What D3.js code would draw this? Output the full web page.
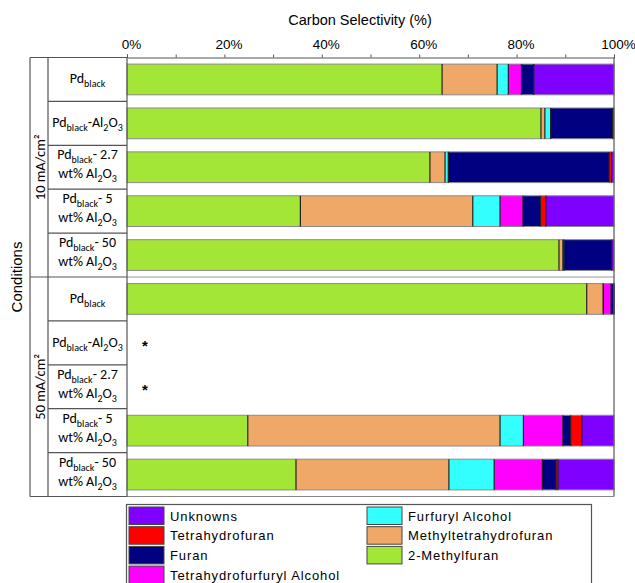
<!DOCTYPE html>
<html>
<head>
<meta charset="utf-8">
<script src="https://cdn.jsdelivr.net/npm/d3@7"></script>
<style>
  html, body { margin: 0; padding: 0; background: #fff; }
  svg { display: block; }
</style>
</head>
<body>
<svg id="chart" width="635" height="583"></svg>
<script>
// Current density groups and catalyst rows ({..} = subscript, | = line break)
const groups = ["10 mA/cm²", "50 mA/cm²"];
const rowGroup = [0, 0, 0, 0, 0, 1, 1, 1, 1, 1];
const catalysts = [
  "Pd{black}",
  "Pd{black}-Al{2}O{3}",
  "Pd{black}- 2.7|wt% Al{2}O{3}",
  "Pd{black}- 5|wt% Al{2}O{3}",
  "Pd{black}- 50|wt% Al{2}O{3}",
  "Pd{black}",
  "Pd{black}-Al{2}O{3}",
  "Pd{black}- 2.7|wt% Al{2}O{3}",
  "Pd{black}- 5|wt% Al{2}O{3}",
  "Pd{black}- 50|wt% Al{2}O{3}"
];

// Carbon selectivity (%) per product; null = not measured (*)
const methylfuran   = [64.7, 85.0, 62.2, 35.6, 88.7, 94.4, null, null, 24.8, 34.7];
const methylTHF     = [11.3,  0.8,  3.1, 35.4,  0.8,  3.4, null, null, 51.8, 31.4];
const furfurylAlc   = [ 2.3,  1.2,  0.7,  5.6,  0.2,  0.0, null, null,  4.8,  9.3];
const thfAlcohol    = [ 2.7,  0.0,  0.0,  4.7,  0.0,  1.6, null, null,  8.1,  9.9];
const furan         = [ 2.5, 12.7, 33.0,  3.6,  9.8,  0.6, null, null,  1.6,  2.8];
const thf           = [ 0.0,  0.0,  0.5,  1.1,  0.0,  0.0, null, null,  2.3,  0.4];
const unknowns      = [16.5,  0.3,  0.5, 14.0,  0.5,  0.0, null, null,  6.6, 11.5];

const seriesNames = ["2-Methylfuran", "Methyltetrahydrofuran", "Furfuryl Alcohol",
  "Tetrahydrofurfuryl Alcohol", "Furan", "Tetrahydrofuran", "Unknowns"];
const seriesValues = [methylfuran, methylTHF, furfurylAlc, thfAlcohol, furan, thf, unknowns];
const seriesColors = ["#a3e635", "#f0a868", "#33ffff", "#ff00ff", "#000080", "#ff0000", "#8000ff"];

const xTicks = [0, 20, 40, 60, 80, 100];
const minorTicks = [0, 10, 20, 30, 40, 50, 60, 70, 80, 90, 100];

// Legend layout: two columns
const legendCols = [
  ["Unknowns", "Tetrahydrofuran", "Furan", "Tetrahydrofurfuryl Alcohol"],
  ["Furfuryl Alcohol", "Methyltetrahydrofuran", "2-Methylfuran"]
];

const svg = d3.select("#chart");
const plot = { left: 127, right: 614, top: 57.5, bottom: 496.5 };
const tableLeft = 30, tableMid = 48;

const x = d3.scaleLinear().domain([0, 100]).range([plot.left, plot.right]);
const rowIds = d3.range(catalysts.length);
const y = d3.scaleBand().domain(rowIds).range([plot.top, plot.bottom])
  .paddingInner(0.3).paddingOuter(0.15);
const step = y.step();
const color = d3.scaleOrdinal().domain(seriesNames).range(seriesColors);

// Table of rows
const rows = rowIds.map(i => {
  const r = { id: i };
  seriesNames.forEach((n, k) => r[n] = seriesValues[k][i]);
  return r;
});
const measured = rows.filter(r => r[seriesNames[0]] !== null);
const stacked = d3.stack().keys(seriesNames).value((d, k) => d[k] || 0)(measured);

const lineColor = "#555";

// Group separator running across the plot
const groupBoundary = plot.top + step * rowGroup.filter(g => g === 0).length;
svg.append("line")
  .attr("x1", plot.left).attr("x2", plot.right)
  .attr("y1", groupBoundary).attr("y2", groupBoundary)
  .attr("stroke", "#999").attr("stroke-width", 1);

// Stacked bars
const layers = svg.append("g").selectAll("g").data(stacked).join("g")
  .attr("fill", d => color(d.key));
layers.selectAll("rect").data(d => d).join("rect")
  .attr("x", d => x(d[0]))
  .attr("width", d => Math.max(0, x(d[1]) - x(d[0])))
  .attr("y", d => y(d.data.id))
  .attr("height", y.bandwidth());

// Bar outlines
svg.append("g").selectAll("rect").data(measured).join("rect")
  .attr("x", x(0)).attr("width", x(100) - x(0))
  .attr("y", d => y(d.id)).attr("height", y.bandwidth())
  .attr("fill", "none").attr("stroke", "#8a8a8a").attr("stroke-width", 1);

// Segment boundaries
const bounds = [];
stacked.forEach((layer, k) => {
  if (k === stacked.length - 1) return;
  layer.forEach(d => bounds.push({ id: d.data.id, v: d[1] }));
});
svg.append("g").selectAll("line").data(bounds).join("line")
  .attr("x1", d => x(d.v)).attr("x2", d => x(d.v))
  .attr("y1", d => y(d.id)).attr("y2", d => y(d.id) + y.bandwidth())
  .attr("stroke", "#222").attr("stroke-width", 1.2);

// Not measured markers
svg.append("g").selectAll("text").data(rows.filter(r => r[seriesNames[0]] === null)).join("text")
  .attr("x", x(0) + 18).attr("y", d => y(d.id) + y.bandwidth() / 2 + 8)
  .attr("text-anchor", "middle")
  .attr("font-family", "Liberation Sans, Arial, sans-serif")
  .attr("font-size", 15).attr("font-weight", "bold")
  .text("*");

// Plot frame: right and bottom edges
svg.append("line").attr("x1", plot.right).attr("x2", plot.right)
  .attr("y1", plot.top).attr("y2", plot.bottom)
  .attr("stroke", lineColor).attr("stroke-width", 1.2);
svg.append("line").attr("x1", plot.left).attr("x2", plot.right)
  .attr("y1", plot.bottom).attr("y2", plot.bottom)
  .attr("stroke", "#888").attr("stroke-width", 1.2);

// Top axis
const axis = svg.append("g").attr("transform", `translate(0,${plot.top})`)
  .call(d3.axisTop(x).tickValues(minorTicks).tickSize(3).tickFormat(""));
axis.select(".domain").attr("stroke", lineColor);
axis.selectAll(".tick line").attr("stroke", lineColor);
svg.append("g").selectAll("text").data(xTicks).join("text")
  .attr("x", d => x(d) + 4.5).attr("y", 49)
  .attr("text-anchor", "middle")
  .attr("font-family", "Liberation Sans, Arial, sans-serif")
  .attr("font-size", 13.5).attr("fill", "#000")
  .text(d => d + "%");
svg.append("text")
  .attr("x", 360).attr("y", 25).attr("text-anchor", "middle")
  .attr("font-family", "Liberation Sans, Arial, sans-serif")
  .attr("font-size", 14.5).text("Carbon Selectivity (%)");

// Left condition table
const table = svg.append("g").attr("stroke", lineColor).attr("stroke-width", 1.2);
[tableLeft, tableMid, plot.left].forEach(xx => table.append("line")
  .attr("x1", xx).attr("x2", xx).attr("y1", plot.top).attr("y2", plot.bottom));
table.append("line").attr("x1", tableLeft).attr("x2", plot.left)
  .attr("y1", plot.top).attr("y2", plot.top);
table.append("line").attr("x1", tableLeft).attr("x2", plot.left)
  .attr("y1", plot.bottom).attr("y2", plot.bottom);
rowIds.slice(1).forEach(i => {
  const yy = plot.top + step * i;
  const isGroup = rowGroup[i] !== rowGroup[i - 1];
  table.append("line").attr("x1", isGroup ? tableLeft : tableMid).attr("x2", plot.left)
    .attr("y1", yy).attr("y2", yy);
});

// Catalyst labels with subscripts
const labelFont = "Carlito, Lato, 'Open Sans', sans-serif";
function addRich(textSel, str) {
  const parts = str.split(/(\{[^}]*\})/).filter(s => s.length);
  let shift = 0;
  parts.forEach(p => {
    const isSub = p.startsWith("{");
    const target = isSub ? 4 : 0;
    textSel.append("tspan")
      .attr("font-size", isSub ? 10 : 14)
      .attr("dy", target - shift)
      .text(isSub ? p.slice(1, -1) : p);
    shift = target;
  });
}
const labelG = svg.append("g").attr("font-family", labelFont).attr("fill", "#000");
catalysts.forEach((lab, i) => {
  const lines = lab.split("|");
  const cy = y(i) + y.bandwidth() / 2;
  lines.forEach((ln, j) => {
    const off = lines.length === 1 ? 4 : (j === 0 ? -8 : 11);
    const t = labelG.append("text").attr("x", (tableMid + plot.left) / 2)
      .attr("y", cy + off).attr("text-anchor", "middle");
    addRich(t, ln);
  });
});

// Group labels (rotated)
groups.forEach((g, gi) => {
  const ids = rowIds.filter(i => rowGroup[i] === gi);
  const yc = (plot.top + step * ids[0] + plot.top + step * (ids[ids.length - 1] + 1)) / 2;
  svg.append("text")
    .attr("transform", `translate(${(tableLeft + tableMid) / 2 + 6},${yc}) rotate(-90)`)
    .attr("text-anchor", "middle")
    .attr("font-family", labelFont).attr("font-size", 14.5)
    .text(g);
});
svg.append("text")
  .attr("transform", `translate(22,${(plot.top + plot.bottom) / 2}) rotate(-90)`)
  .attr("text-anchor", "middle")
  .attr("font-family", "Liberation Sans, Arial, sans-serif").attr("font-size", 15)
  .text("Conditions");

// Legend
const legend = svg.append("g");
legend.append("rect").attr("x", 126.5).attr("y", 504.5).attr("width", 465).attr("height", 100)
  .attr("fill", "#fff").attr("stroke", lineColor).attr("stroke-width", 1.2);
const colX = [129, 367];
legendCols.forEach((col, c) => {
  col.forEach((name, r) => {
    const ly = 507 + r * 19.7;
    legend.append("rect").attr("x", colX[c]).attr("y", ly)
      .attr("width", 35).attr("height", 17.5)
      .attr("fill", color(name)).attr("stroke", "#444").attr("stroke-width", 1);
    legend.append("text").attr("x", colX[c] + 41).attr("y", ly + 13.5)
      .attr("font-family", "Liberation Sans, Arial, sans-serif").attr("font-size", 13)
      .attr("letter-spacing", 0.9)
      .text(name);
  });
});
</script>
</body>
</html>
